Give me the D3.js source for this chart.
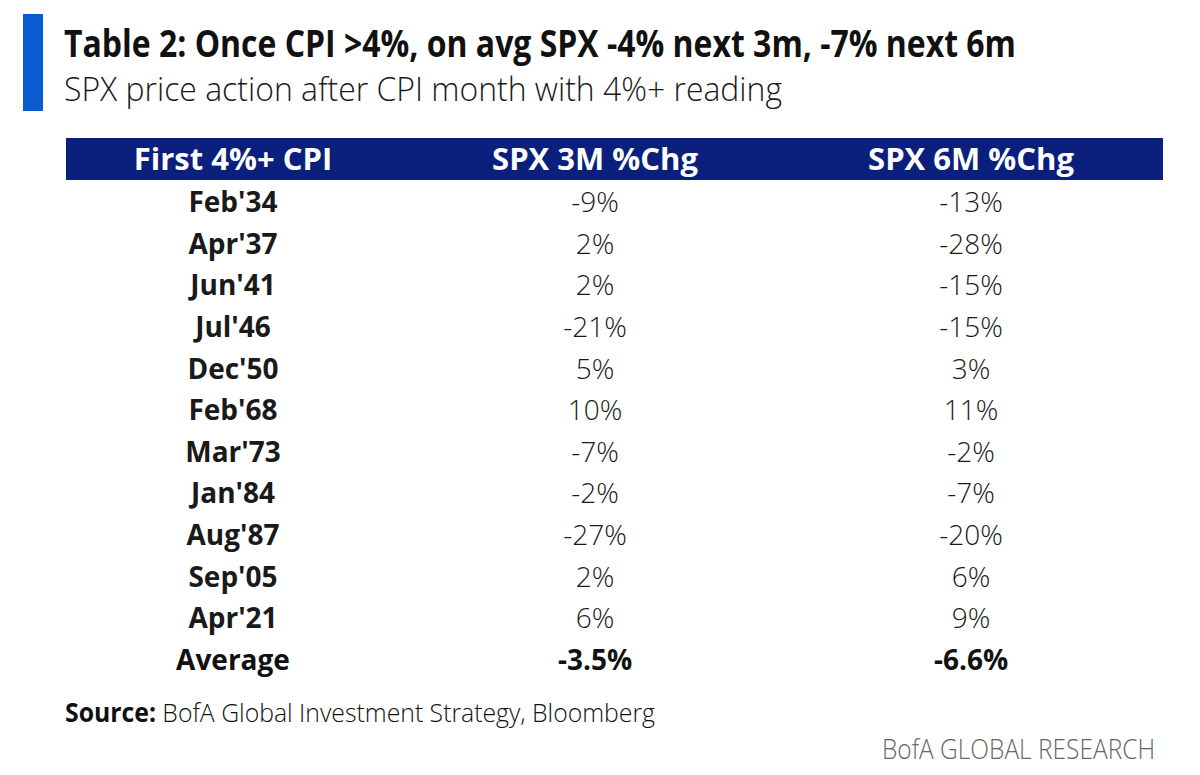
<!DOCTYPE html>
<html>
  <head>
    <meta charset="UTF-8" />
    <style>
      body {
        margin: 0;
        background: #fff;
        font-family: "Open Sans";
        overflow: hidden;
      }
    </style>
  </head>
  <body>
    <svg></svg>
    <script src="https://d3js.org/d3.v7.min.js"></script>
    <script>
      // Table data
      const headers = ["First 4%+ CPI", "SPX 3M %Chg", "SPX 6M %Chg"];
      const months = ["Feb'34", "Apr'37", "Jun'41", "Jul'46", "Dec'50", "Feb'68",
        "Mar'73", "Jan'84", "Aug'87", "Sep'05", "Apr'21"];
      const chg3m = [-9, 2, 2, -21, 5, 10, -7, -2, -27, 2, 6];
      const chg6m = [-13, -28, -15, -15, 3, 11, -2, -7, -20, 6, 9];
      const averageLabel = "Average";
      const averages = ["-3.5%", "-6.6%"];

      const title = "Table 2: Once CPI >4%, on avg SPX -4% next 3m, -7% next 6m";
      const subtitle = "SPX price action after CPI month with 4%+ reading";
      const sourceLabel = "Source:";
      const sourceText = " BofA Global Investment Strategy, Bloomberg";
      const brand = "BofA GLOBAL RESEARCH";

      let width = 1200,
        height = 775;

      let svg = d3
        .select("svg")
        .attr("width", width)
        .attr("height", height)
        .style("display", "block");

      // Title block
      svg.append("rect")
        .attr("x", 23).attr("y", 14)
        .attr("width", 20).attr("height", 97)
        .attr("fill", "#0a5bd2");

      svg.append("text")
        .attr("x", 64).attr("y", 57)
        .attr("font-size", 38)
        .attr("font-weight", 700)
        .attr("fill", "#111")
        .attr("textLength", 952)
        .attr("lengthAdjust", "spacingAndGlyphs")
        .text(title);

      svg.append("text")
        .attr("x", 64).attr("y", 101)
        .attr("font-size", 33)
        .attr("font-weight", 300)
        .attr("fill", "#1a1a1a")
        .attr("textLength", 718)
        .attr("lengthAdjust", "spacingAndGlyphs")
        .text(subtitle);

      // Scales for table layout
      let x = d3.scaleOrdinal().domain([0, 1, 2]).range([233, 595, 971]);
      let y = d3.scaleLinear().domain([0, months.length]).range([212, 670]);

      // Header
      svg.append("rect")
        .attr("x", 66).attr("y", 138)
        .attr("width", 1163 - 66).attr("height", 42)
        .attr("fill", "#0b1f7c");

      svg.append("g")
        .selectAll("text")
        .data(headers)
        .enter()
        .append("text")
        .attr("x", (d, i) => x(i))
        .attr("y", 170)
        .attr("text-anchor", "middle")
        .attr("font-size", 31)
        .attr("font-weight", 700)
        .attr("fill", "#fff")
        .text((d) => d);

      // Rows
      let rows = months.map((m, i) => [m, chg3m[i] + "%", chg6m[i] + "%"]);

      let row = svg.append("g")
        .selectAll("g")
        .data(rows)
        .enter()
        .append("g")
        .attr("transform", (d, i) => "translate(0," + y(i) + ")");

      row.selectAll("text")
        .data((d) => d)
        .enter()
        .append("text")
        .attr("x", (d, i) => x(i))
        .attr("text-anchor", "middle")
        .attr("font-size", 28)
        .attr("font-weight", (d, i) => (i === 0 ? 700 : 300))
        .attr("fill", "#1a1a1a")
        .text((d) => d);

      // Average row
      svg.append("g")
        .attr("transform", "translate(0," + y(months.length) + ")")
        .selectAll("text")
        .data([averageLabel].concat(averages))
        .enter()
        .append("text")
        .attr("x", (d, i) => x(i))
        .attr("text-anchor", "middle")
        .attr("font-size", 28)
        .attr("font-weight", 700)
        .attr("fill", "#111")
        .text((d) => d);

      // Source
      let src = svg.append("text")
        .attr("x", 65).attr("y", 722)
        .attr("font-size", 26)
        .attr("fill", "#111")
        .attr("textLength", 590)
        .attr("lengthAdjust", "spacingAndGlyphs");
      src.append("tspan").attr("font-weight", 700).text(sourceLabel);
      src.append("tspan").attr("font-weight", 300).text(sourceText);

      svg.append("text")
        .attr("x", 882).attr("y", 759)
        .attr("font-size", 28)
        .attr("font-weight", 300)
        .attr("fill", "#666")
        .attr("textLength", 273)
        .attr("lengthAdjust", "spacingAndGlyphs")
        .text(brand);
    </script>
  </body>
</html>
